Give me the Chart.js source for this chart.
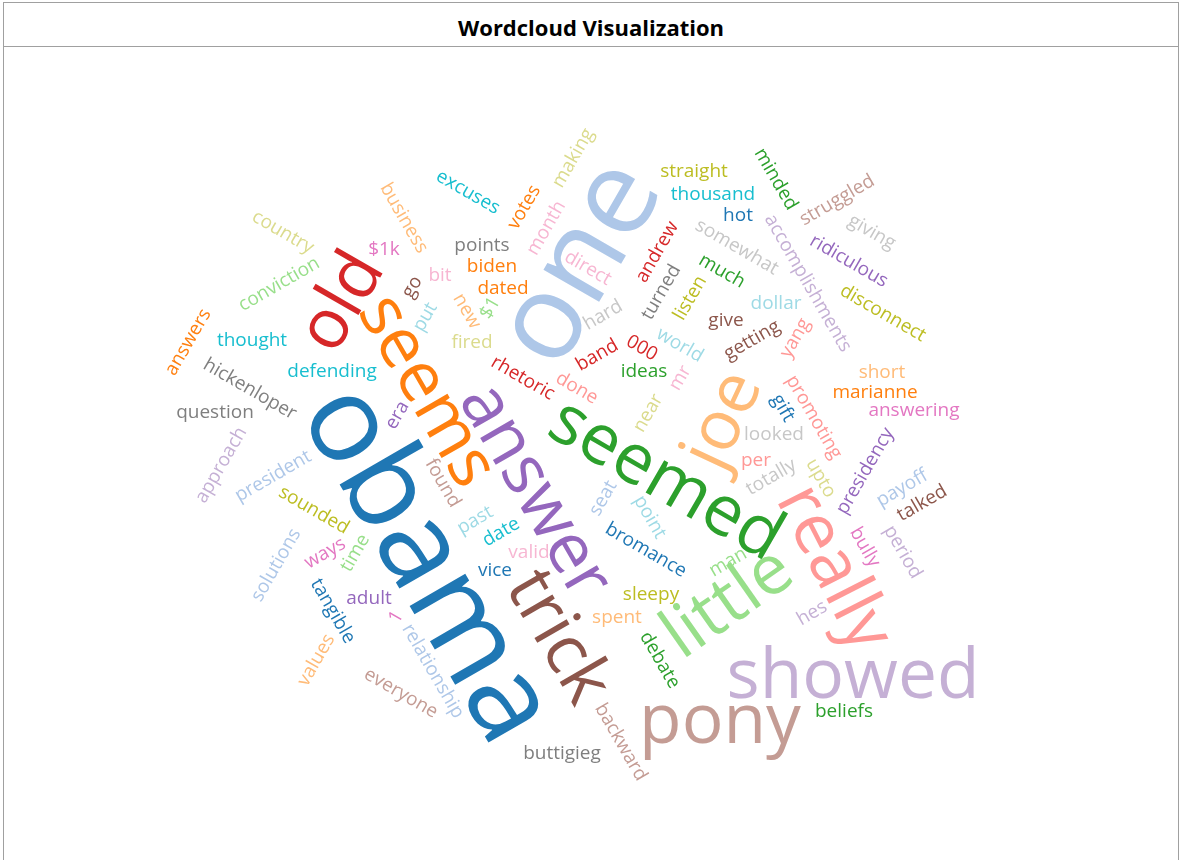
<!DOCTYPE html>
<html>
<head>
<meta charset="utf-8">
<title>Wordcloud Visualization</title>
<script src="https://cdn.jsdelivr.net/npm/chart.js@4.4.1/dist/chart.umd.min.js"></script>
<style>
  html, body { margin: 0; padding: 0; background: #fff; }
  #frame {
    position: absolute; left: 3px; top: 2px; width: 1176px; height: 870px;
    border: 1px solid #a0a0a0; box-sizing: border-box;
  }
  #head {
    height: 43px; border-bottom: 1px solid #a0a0a0;
    text-align: center; color: #000;
    font: bold 22px "Open Sans", sans-serif;
    line-height: 48px;
  }
  #body { position: absolute; left: 0; top: 44px; width: 1174px; height: 814px; }
</style>
</head>
<body>
<div id="frame">
  <div id="head">Wordcloud Visualization</div>
  <div id="body"><canvas id="cloud"></canvas></div>
</div>
<script>
// words in cloud order (colour follows the order, category20 style)
var words = [
  "obama","one","seems","joe","seemed","little","old","really","answer","showed","trick","pony",
  "$1k","bit","points","hard","straight","making","excuses","put",
  "tangible","president","answers","business","much","conviction","andrew","done","adult","approach",
  "go","everyone","ways","month","turned","somewhat","listen","country","thousand","world",
  "vice","solutions","biden","values","ideas","time","rhetoric","yang","era","accomplishments",
  "give","backward","1","direct","hickenloper","giving","disconnect","fired","thought","dollar",
  "hot","relationship","dated","new","minded","$1","band","promoting","ridiculous","hes",
  "getting","struggled","answering","mr","question","looked","sounded","near","defending","past",
  "gift","seat","votes","spent","debate","man","000","per","presidency","period",
  "talked","found","bully","valid","buttigieg","totally","sleepy","upto","date","point",
  "bromance","payoff","marianne","short","beliefs"
];

// word counts
var counts = [
  3,3,2,2,2,2,2,2,2,2,2,2,
  1,1,1,1,1,1,1,1,
  1,1,1,1,1,1,1,1,1,1,
  1,1,1,1,1,1,1,1,1,1,
  1,1,1,1,1,1,1,1,1,1,
  1,1,1,1,1,1,1,1,1,1,
  1,1,1,1,1,1,1,1,1,1,
  1,1,1,1,1,1,1,1,1,1,
  1,1,1,1,1,1,1,1,1,1,
  1,1,1,1,1,1,1,1,1,1,
  1,1,1,1,1
];

// cloud layout: offset from the cloud centre, and rotation in degrees
var layoutX = [
  -153,0,-153,143,86,148,-238,254,-45,273,-22,140,
  -196,-140,-98,23,114,-7,-112,-155,
  -247,-307,-392,-176,142,-301,77,-3,-211,-359,
  -168,-179,-255,-34,81,157,110,-297,133,100,
  -85,-304,-88,-264,64,-225,-57,215,-183,228,
  146,41,-184,8,-330,292,303,-108,-328,196,
  158,-147,-77,-113,196,-90,17,234,269,232,
  172,257,334,100,-365,194,-266,68,-248,-105,
  203,23,-56,37,80,148,62,176,285,323,
  342,-137,285,-51,-18,191,71,241,-79,70,
  66,322,295,302,264
];
var layoutY = [
  109,-192,-64,-35,25,148,-153,113,36,222,182,267,
  -206,-180,-210,-140,-284,-297,-263,-138,
  156,21,-113,-237,-184,-171,-203,-67,143,10,
  -168,238,98,-227,-163,-208,-157,-223,-261,-110,
  115,110,-189,205,-84,98,-77,-117,-40,-172,
  -135,287,162,-187,-66,-223,-142,-113,-115,-152,
  -240,216,-167,-144,-276,-147,-100,-38,-194,158,
  -115,-255,-45,-77,-43,-21,55,-42,-84,65,
  -47,43,-248,162,205,107,-107,5,16,97,
  48,28,92,97,298,22,139,23,77,62,
  95,33,-63,-83,256
];
var rotation = [
  60,-60,60,-65,30,-35,-60,63,60,0,60,0,
  0,0,0,-30,0,-60,30,-60,
  60,-30,-60,60,30,-30,-60,30,0,-60,
  -60,30,-30,-60,-60,30,-60,30,0,30,
  0,-60,0,-60,0,-60,30,-60,-60,60,
  0,60,-60,30,30,30,30,0,0,0,
  0,60,0,60,60,-60,-30,60,30,-30,
  -30,-30,0,-60,0,0,30,-60,0,-30,
  60,-60,-60,0,60,-30,30,0,-60,60,
  -30,60,60,0,0,-30,0,60,-30,60,
  30,-30,0,0,0
];

var palette = ["#1f77b4","#aec7e8","#ff7f0e","#ffbb78","#2ca02c","#98df8a","#d62728","#ff9896",
  "#9467bd","#c5b0d5","#8c564b","#c49c94","#e377c2","#f7b6d2","#7f7f7f","#c7c7c7",
  "#bcbd22","#dbdb8d","#17becf","#9edae5"];

var minFont = 19, maxFont = 120;
function fontSize(c) {
  return minFont + (c - 1) / 2 * (maxFont - minFont);
}

// draws each word at its point, the points themselves are invisible
var wordLabels = {
  id: 'wordLabels',
  afterDatasetsDraw: function(chart) {
    var ctx = chart.ctx;
    var meta = chart.getDatasetMeta(0);
    meta.data.forEach(function(pt, i) {
      var size = fontSize(counts[i]);
      ctx.save();
      ctx.translate(pt.x, pt.y);
      ctx.rotate(rotation[i] * Math.PI / 180);
      ctx.font = size + 'px "Open Sans"';
      ctx.fillStyle = palette[i % palette.length];
      ctx.textAlign = 'center';
      ctx.textBaseline = 'alphabetic';
      ctx.fillText(words[i], 0, size * 0.3);
      ctx.restore();
    });
  }
};

var cloud = document.getElementById('cloud');
var points = words.map(function(w, i) { return { x: layoutX[i], y: layoutY[i] }; });

var wordChart = new Chart(cloud, {
  type: 'scatter',
  data: {
    labels: words,
    datasets: [{
      data: points,
      pointRadius: 0,
      pointHoverRadius: 0
    }]
  },
  options: {
    responsive: true,
    maintainAspectRatio: false,
    animation: false,
    layout: { padding: 0 },
    plugins: {
      legend: { display: false },
      tooltip: { enabled: false }
    },
    scales: {
      x: { type: 'linear', display: false, min: -576, max: 598 },
      y: { type: 'linear', display: false, reverse: true, min: -408, max: 406 }
    }
  },
  plugins: [wordLabels]
});
</script>
</body>
</html>
